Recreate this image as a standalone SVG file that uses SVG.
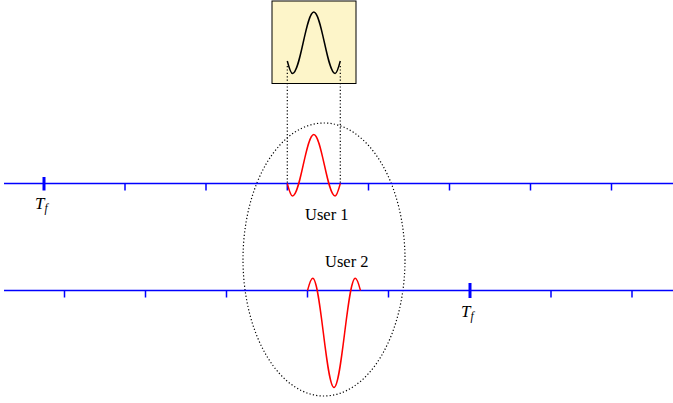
<svg xmlns="http://www.w3.org/2000/svg" width="673" height="403" viewBox="0 0 673 403">
<style>
.axis{stroke:#0000ff;stroke-width:1.5;fill:none}
.tick{stroke:#0000ff;stroke-width:1.5}
.ttick{stroke:#0000ff;stroke-width:3}
.pulse{stroke:#ff0000;stroke-width:1.5;fill:none}
.dot{stroke:#000;stroke-width:1.2;stroke-dasharray:1.2 2.2;fill:none}
.lbl{font-family:"Liberation Serif","Times New Roman",serif;font-size:16.5px;fill:#000}
.tf{font-family:"Liberation Serif","Times New Roman",serif;font-style:italic;font-size:17px;fill:#000}
</style>
<rect width="673" height="403" fill="#fff"/>
<g id="zoom-box">
<rect x="272" y="1" width="84" height="82.5" fill="#fdf5c9" stroke="#000" stroke-width="1"/>
<path d="M287.3,61 C289,67.4 290.6,73.5 292.5,73.5 C300.24,73.5 306.06,12 313.8,12 C321.54,12 327.36,73.5 335.1,73.5 C336.98,73.5 338.6,67.4 340.3,61" fill="none" stroke="#000" stroke-width="1.5"/>
</g>
<g id="connectors">
<line class="dot" x1="287.3" y1="66" x2="287.3" y2="183.5"/>
<line class="dot" x1="340.3" y1="66" x2="340.3" y2="183.5"/>
<ellipse class="dot" cx="324" cy="259.5" rx="81" ry="136.5"/>
</g>
<g id="timeline-user1">
<line class="axis" x1="4" y1="183.5" x2="673" y2="183.5"/>
<line class="ttick" x1="44" y1="177" x2="44" y2="190.5"/>
<g class="tick">
<line x1="125" y1="183.5" x2="125" y2="190.5"/>
<line x1="206" y1="183.5" x2="206" y2="190.5"/>
<line x1="287.3" y1="183.5" x2="287.3" y2="190.5"/>
<line x1="368.5" y1="183.5" x2="368.5" y2="190.5"/>
<line x1="449.5" y1="183.5" x2="449.5" y2="190.5"/>
<line x1="530.5" y1="183.5" x2="530.5" y2="190.5"/>
<line x1="611.5" y1="183.5" x2="611.5" y2="190.5"/>
</g>
<text class="tf" x="35" y="208.5">T<tspan font-size="11.5" dy="3.5">f</tspan></text>
</g>
<g id="timeline-user2">
<line class="axis" x1="4" y1="290.5" x2="673" y2="290.5"/>
<line class="ttick" x1="470" y1="283" x2="470" y2="298"/>
<g class="tick">
<line x1="64.5" y1="290.5" x2="64.5" y2="297.5"/>
<line x1="145.5" y1="290.5" x2="145.5" y2="297.5"/>
<line x1="226.5" y1="290.5" x2="226.5" y2="297.5"/>
<line x1="307.5" y1="290.5" x2="307.5" y2="297.5"/>
<line x1="388.5" y1="290.5" x2="388.5" y2="297.5"/>
<line x1="551" y1="290.5" x2="551" y2="297.5"/>
<line x1="632" y1="290.5" x2="632" y2="297.5"/>
</g>
<text class="tf" x="461" y="316.5">T<tspan font-size="11.5" dy="3.5">f</tspan></text>
</g>
<g id="user1">
<path class="pulse" d="M287.3,183.5 C289,189.9 290.6,196 292.5,196 C300.24,196 306.06,134.5 313.8,134.5 C321.54,134.5 327.36,196 335.1,196 C336.98,196 338.6,189.9 340.3,183.5"/>
<text class="lbl" x="305" y="219.5">User 1</text>
</g>
<g id="user2">
<path class="pulse" d="M307.5,290.5 C309.2,284.3 310.8,278.3 312.7,278.3 C320.44,278.3 326.26,387.5 334,387.5 C341.74,387.5 347.56,278.3 355.3,278.3 C357.2,278.3 358.8,284.3 360.5,290.5"/>
<text class="lbl" x="325" y="266.5">User 2</text>
</g>
</svg>
